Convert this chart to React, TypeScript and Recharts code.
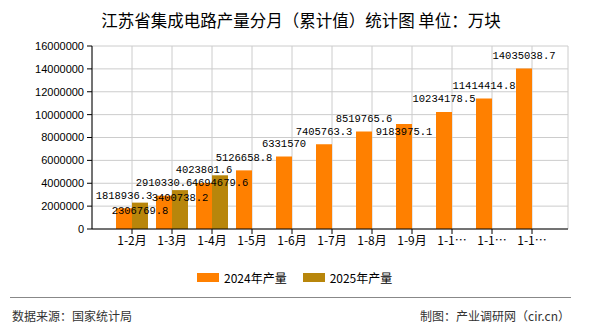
import React from 'react';
import { BarChart, Bar, XAxis, YAxis, CartesianGrid, LabelList } from 'recharts';

const title = '江苏省集成电路产量分月（累计值）统计图 单位：万块';
const categories = ['1-2月', '1-3月', '1-4月', '1-5月', '1-6月', '1-7月', '1-8月', '1-9月', '1-10月', '1-11月', '1-12月'];
const output2024 = [1818936.3, 2910330.6, 4023801.6, 5126658.8, 6331570, 7405763.3, 8519765.6, 9183975.1, 10234178.5, 11414414.8, 14035038.7];
const output2025: (number | null)[] = [2306769.8, 3400738.2, 4694679.6, null, null, null, null, null, null, null, null];
const seriesNames = ['2024年产量', '2025年产量'];
const seriesColors = ['#ff8000', '#b8860b'];
const yTicks = [0, 2000000, 4000000, 6000000, 8000000, 10000000, 12000000, 14000000, 16000000];
const sourceText = '数据来源：国家统计局';
const creditText = '制图：产业调研网（cir.cn）';

const data = categories.map((c, i) => ({ name: c, a: output2024[i], b: output2025[i] }));

const FONT = '"Noto Sans CJK SC", "Noto Sans", sans-serif';

const makeLabel = (below: (i: number) => boolean) => (props: any) => {
  const { x, y, width, value, index } = props;
  if (value == null) return null;
  const cy = below(index) ? Number(y) + 8 : Number(y) - 12.5;
  return (
    <text
      x={Number(x) + Number(width) / 2}
      y={cy}
      textAnchor="middle"
      dominantBaseline="central"
      fontSize={10.5}
      fontFamily='"Liberation Mono", "DejaVu Sans Mono", monospace'
      fill="#000"
    >
      {String(value)}
    </text>
  );
};

const shortTick = (v: string) => (v.length > 4 ? v.slice(0, 3) + '…' : v);

export default function App() {
  return (
    <div style={{ position: 'absolute', left: 0, top: 0, width: 590, height: 330, background: '#fff', fontFamily: FONT }}>
      <div style={{ position: 'absolute', top: 9, left: 6, width: 590, textAlign: 'center', fontSize: 16.5, lineHeight: '22px', color: '#000' }}>
        {title}
      </div>
      <BarChart
        width={590}
        height={330}
        data={data}
        margin={{ top: 46, right: 22, bottom: 71, left: 12 }}
        barGap={0}
        barSize={16}
      >
        <CartesianGrid stroke="#cccccc" />
        <XAxis
          dataKey="name"
          height={30}
          padding={{ left: 20, right: 16 }}
          axisLine={{ stroke: '#000' }}
          tickLine={{ stroke: '#000' }}
          tickSize={5}
          tick={{ fontSize: 12, fill: '#000', fontFamily: FONT }}
          tickFormatter={shortTick}
          interval={0}
        />
        <YAxis
          width={80}
          domain={[0, 16000000]}
          ticks={yTicks}
          axisLine={{ stroke: '#000' }}
          tickLine={{ stroke: '#000' }}
          tickSize={5}
          tickMargin={3}
          tick={{ fontSize: 11, fill: '#000', fontFamily: '"Liberation Sans", Arial, sans-serif' }}
          interval={0}
        />
        <YAxis yAxisId="r" orientation="right" width={0} tick={false} tickLine={false} axisLine={{ stroke: '#cccccc' }} />
        <Bar dataKey="a" name={seriesNames[0]} fill={seriesColors[0]} isAnimationActive={false}>
          <LabelList dataKey="a" content={makeLabel((i) => i === 7)} />
        </Bar>
        <Bar dataKey="b" name={seriesNames[1]} fill={seriesColors[1]} isAnimationActive={false}>
          <LabelList dataKey="b" content={makeLabel(() => true)} />
        </Bar>
      </BarChart>
      <div style={{ position: 'absolute', top: 268, left: 197, display: 'flex', alignItems: 'center', height: 18, fontSize: 12, color: '#000' }}>
        {seriesNames.map((n, i) => (
          <div key={n} style={{ display: 'flex', alignItems: 'center', marginRight: i === 0 ? 16 : 0 }}>
            <div style={{ width: 22, height: 9, background: seriesColors[i], marginRight: 5 }} />
            <span>{n}</span>
          </div>
        ))}
      </div>
      <div style={{ position: 'absolute', top: 297, left: 10, width: 561, height: 1, background: '#888' }} />
      <div style={{ position: 'absolute', top: 307, left: 12, fontSize: 12, lineHeight: '18px', color: '#333' }}>{sourceText}</div>
      <div style={{ position: 'absolute', top: 307, right: 20, fontSize: 12, lineHeight: '18px', color: '#333' }}>{creditText}</div>
    </div>
  );
}
